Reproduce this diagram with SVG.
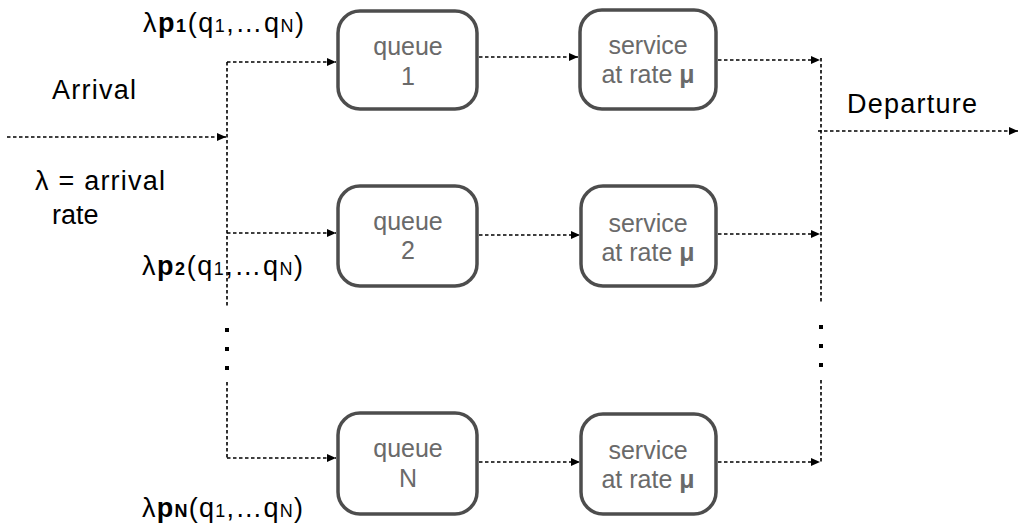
<svg xmlns="http://www.w3.org/2000/svg" width="1019" height="527" viewBox="0 0 1019 527">
<style>
.box{fill:#fff;stroke:#4d4d4d;stroke-width:3.5}
.bt{font-family:"Liberation Sans",Arial,sans-serif;font-size:25px;fill:#6a6a6a;text-anchor:middle}
.lbl{font-family:"Liberation Sans",Arial,sans-serif;font-size:27px;fill:#000}
.sub{font-size:18px}
.conn{fill:none;stroke:#000;stroke-width:1.6;stroke-dasharray:3.5 2.5}
.dot{fill:#000}
</style>
<defs>
<marker id="arr" markerUnits="userSpaceOnUse" markerWidth="10" markerHeight="8" refX="9" refY="4" orient="auto">
<path d="M0,0 L9,4 L0,8 z" fill="#000"/>
</marker>
</defs>
<g id="connectors">
<path class="conn" d="M7,137 H226" marker-end="url(#arr)"/>
<path class="conn" d="M227,62 V307 M227,382 V458"/>
<path class="conn" d="M227,62 H336" marker-end="url(#arr)"/>
<path class="conn" d="M227,233 H336" marker-end="url(#arr)"/>
<path class="conn" d="M227,458 H336" marker-end="url(#arr)"/>
<path class="conn" d="M479,57 H578" marker-end="url(#arr)"/>
<path class="conn" d="M479,235 H580" marker-end="url(#arr)"/>
<path class="conn" d="M479,462 H580" marker-end="url(#arr)"/>
<path class="conn" d="M718,60 H820" marker-end="url(#arr)"/>
<path class="conn" d="M718,234 H820" marker-end="url(#arr)"/>
<path class="conn" d="M718,462 H820" marker-end="url(#arr)"/>
<path class="conn" d="M821,58 V303 M821,380 V462"/>
<path class="conn" d="M818,131 H1018" marker-end="url(#arr)"/>
<rect class="dot" x="225" y="328" width="4" height="4"/>
<rect class="dot" x="225" y="347" width="4" height="4"/>
<rect class="dot" x="225" y="366" width="4" height="4"/>
<rect class="dot" x="819" y="325" width="4" height="4"/>
<rect class="dot" x="819" y="344" width="4" height="4"/>
<rect class="dot" x="819" y="363" width="4" height="4"/>
</g>
<g id="queue1">
<rect class="box" x="338" y="11" width="139" height="98" rx="22"/>
<text class="bt" x="408" y="55">queue</text>
<text class="bt" x="408" y="85">1</text>
</g>
<g id="service1">
<rect class="box" x="580" y="10" width="136" height="99" rx="22"/>
<text class="bt" x="648" y="54">service</text>
<text class="bt" x="648" y="83">at rate <tspan font-weight="bold">μ</tspan></text>
</g>
<g id="queue2">
<rect class="box" x="338" y="186" width="139" height="100" rx="22"/>
<text class="bt" x="408" y="230">queue</text>
<text class="bt" x="408" y="259">2</text>
</g>
<g id="service2">
<rect class="box" x="581" y="186" width="135" height="100" rx="22"/>
<text class="bt" x="648" y="232">service</text>
<text class="bt" x="648" y="261">at rate <tspan font-weight="bold">μ</tspan></text>
</g>
<g id="queueN">
<rect class="box" x="338" y="413" width="139" height="101" rx="22"/>
<text class="bt" x="408" y="457">queue</text>
<text class="bt" x="408" y="487">N</text>
</g>
<g id="serviceN">
<rect class="box" x="581" y="414" width="135" height="100" rx="22"/>
<text class="bt" x="648" y="459">service</text>
<text class="bt" x="648" y="488">at rate <tspan font-weight="bold">μ</tspan></text>
</g>
<g id="labels">
<text class="lbl" x="143" y="32" textLength="161" lengthAdjust="spacing">λ<tspan font-weight="bold">p</tspan><tspan font-weight="bold" class="sub">1</tspan>(q<tspan class="sub">1</tspan>,…q<tspan class="sub">N</tspan>)</text>
<text class="lbl" x="52" y="99" textLength="84" lengthAdjust="spacing">Arrival</text>
<text class="lbl" x="35" y="190" textLength="130" lengthAdjust="spacing">λ = arrival</text>
<text class="lbl" x="52" y="224">rate</text>
<text class="lbl" x="142" y="275" textLength="161" lengthAdjust="spacing">λ<tspan font-weight="bold">p</tspan><tspan font-weight="bold" class="sub">2</tspan>(q<tspan class="sub">1</tspan>,…q<tspan class="sub">N</tspan>)</text>
<text class="lbl" x="142" y="517" textLength="161" lengthAdjust="spacing">λ<tspan font-weight="bold">p</tspan><tspan font-weight="bold" class="sub">N</tspan>(q<tspan class="sub">1</tspan>,…q<tspan class="sub">N</tspan>)</text>
<text class="lbl" x="847" y="113" textLength="130" lengthAdjust="spacing">Departure</text>
</g>
</svg>
